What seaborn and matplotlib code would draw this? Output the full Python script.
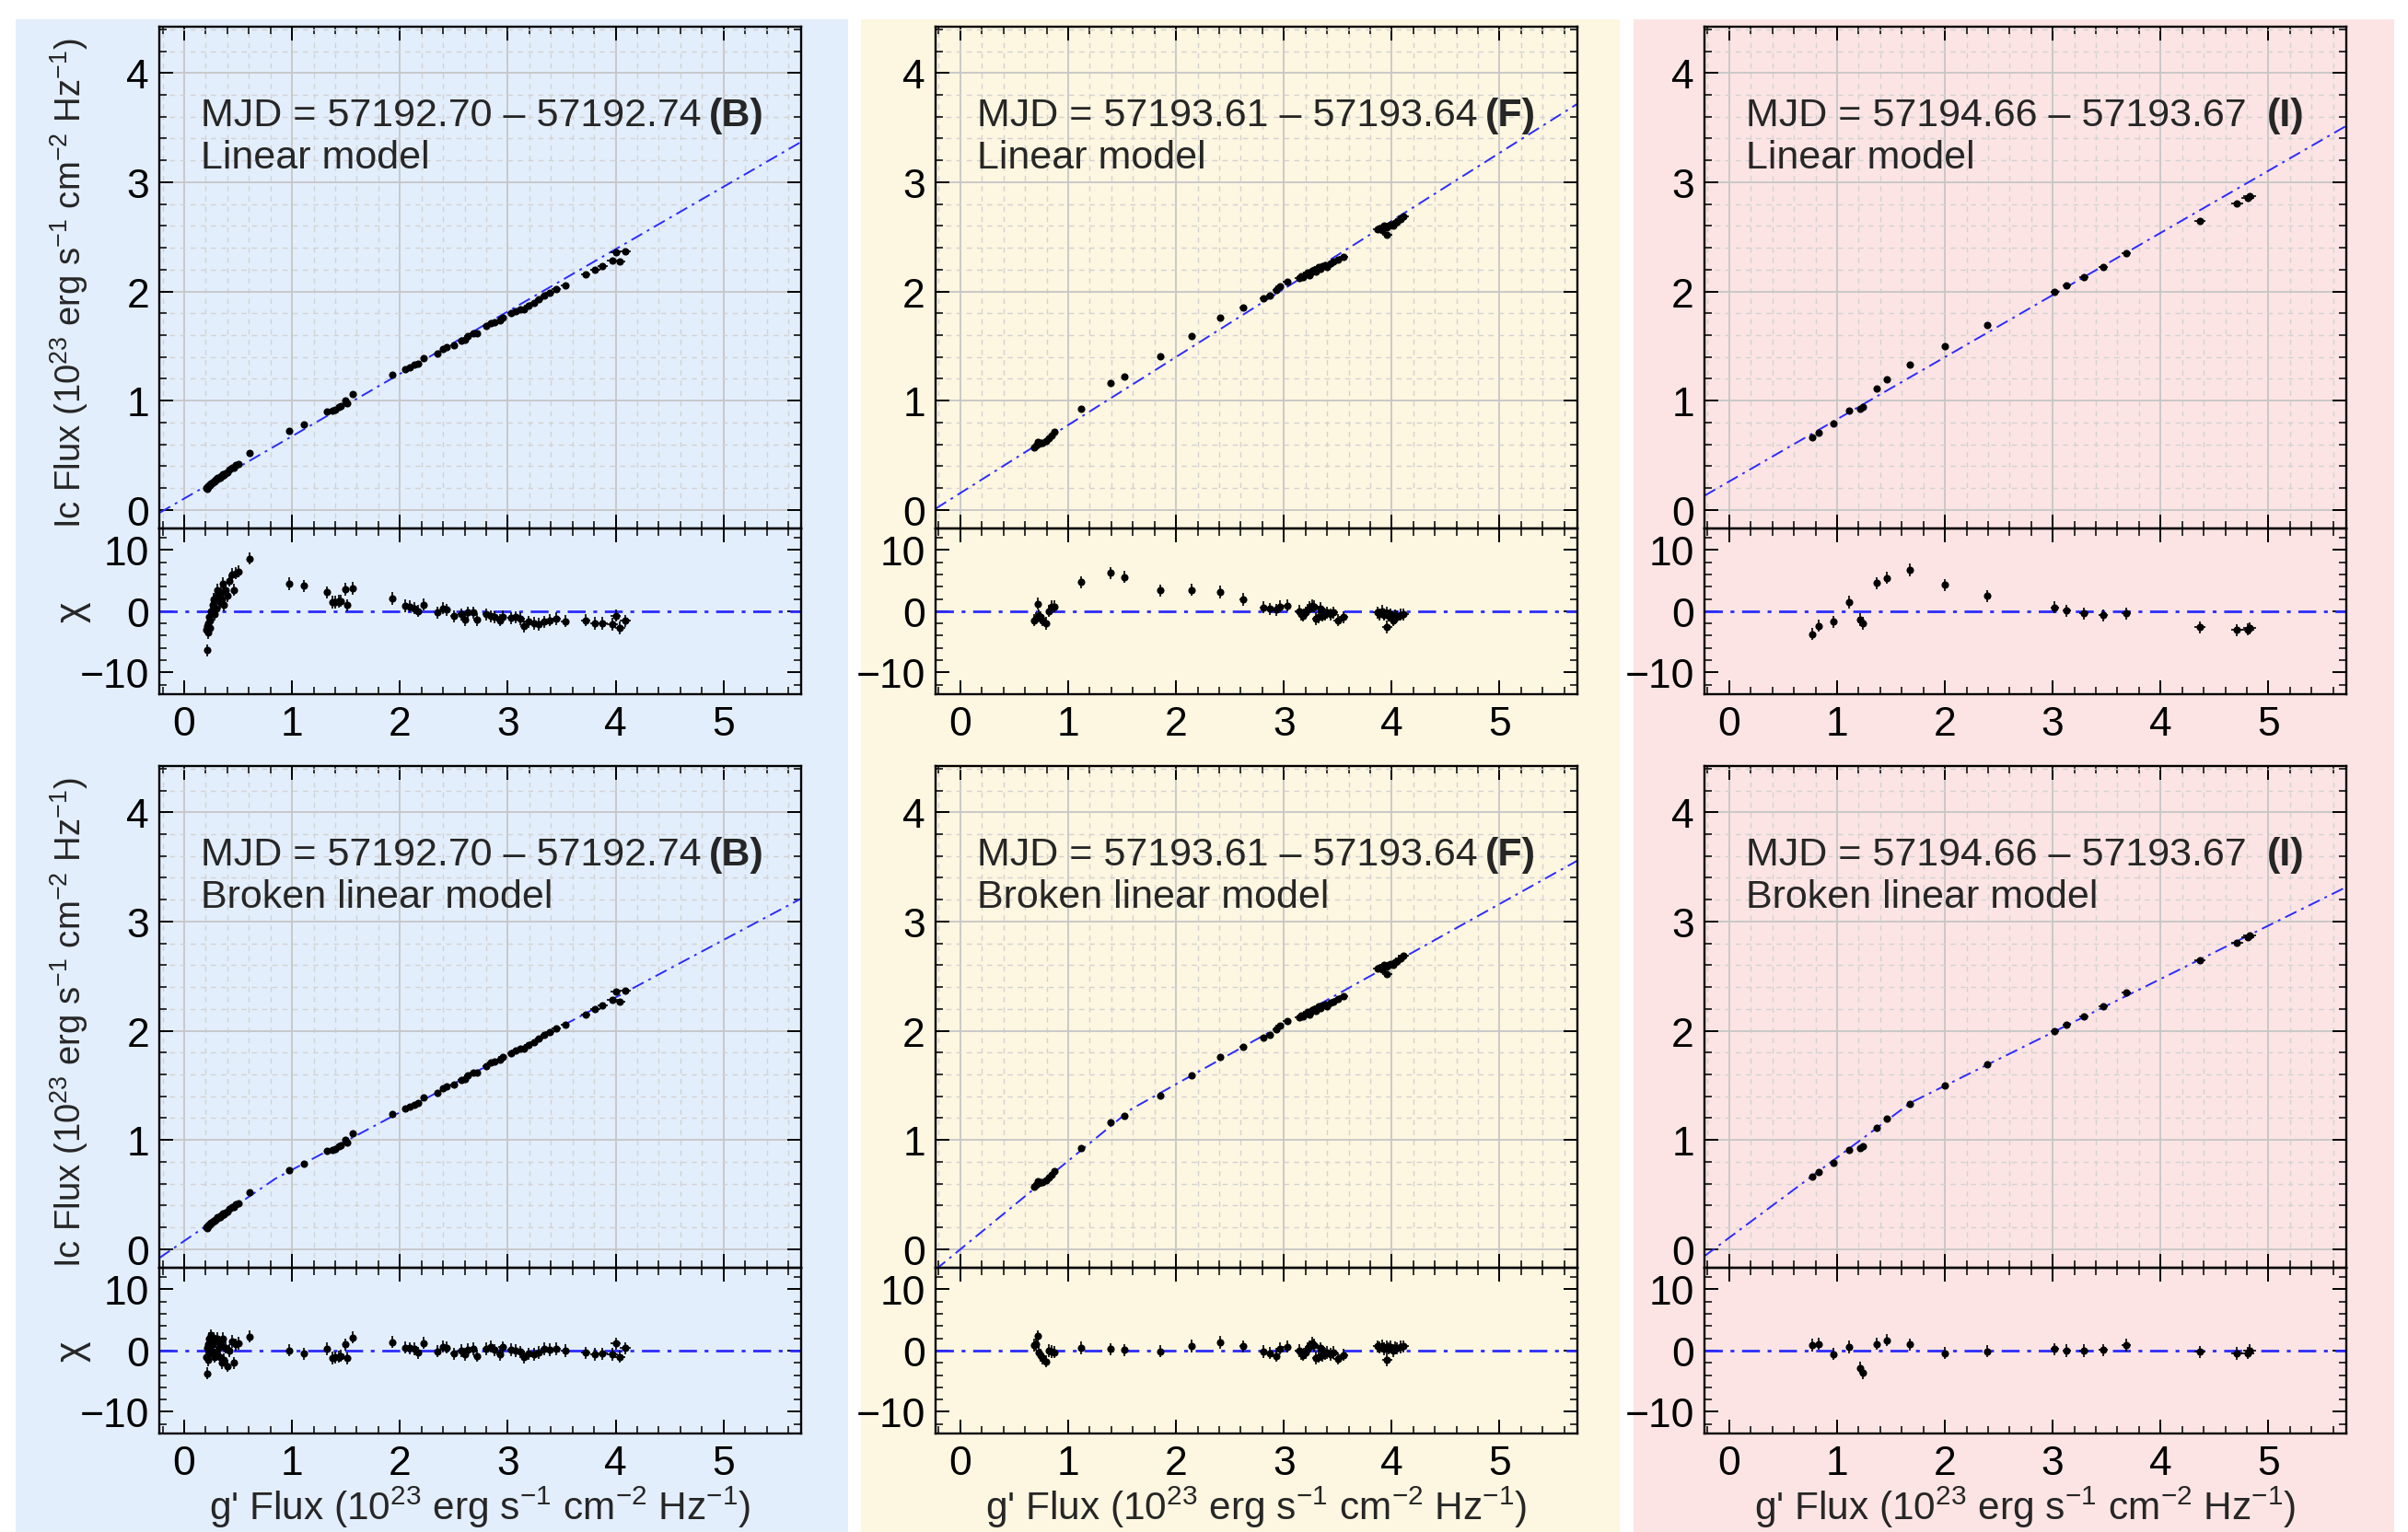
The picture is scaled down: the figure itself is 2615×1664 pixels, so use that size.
import numpy as np
import pandas as pd
import matplotlib
matplotlib.use("Agg")
import matplotlib.pyplot as plt
from matplotlib.patches import Rectangle
from matplotlib.ticker import MultipleLocator
import seaborn as sns

## ---------------- data ----------------
# column 1 : MJD 57192.70 - 57192.74 (B)
g_b = [0.205, 0.21, 0.215, 0.22, 0.225, 0.23, 0.235, 0.24, 0.25, 0.255, 0.26, 0.27, 0.28, 0.29, 0.30,
       0.31, 0.32, 0.33, 0.34, 0.35, 0.36, 0.37, 0.38, 0.40, 0.42, 0.44, 0.46, 0.48, 0.50, 0.61,
       0.974, 1.106, 1.32, 1.37, 1.40, 1.43, 1.45, 1.49, 1.51, 1.566, 1.93, 2.045, 2.09, 2.13, 2.17,
       2.22, 2.35, 2.40, 2.436, 2.50, 2.57, 2.60, 2.63, 2.68, 2.715, 2.80, 2.84, 2.88, 2.93, 2.95,
       3.03, 3.07, 3.12, 3.15, 3.19, 3.24, 3.29, 3.34, 3.39, 3.45, 3.53, 3.72, 3.81, 3.88, 3.97,
       4.00, 4.04, 4.09]
ic_b = [0.200, 0.196, 0.209, 0.210, 0.218, 0.224, 0.222, 0.232, 0.243, 0.242, 0.250, 0.260, 0.256, 0.272, 0.273,
        0.290, 0.292, 0.294, 0.306, 0.306, 0.325, 0.320, 0.335, 0.343, 0.365, 0.382, 0.383, 0.410, 0.420, 0.518,
        0.722, 0.780, 0.900, 0.905, 0.920, 0.940, 0.952, 1.000, 0.975, 1.060, 1.240, 1.285, 1.306, 1.326, 1.336,
        1.390, 1.435, 1.474, 1.490, 1.508, 1.553, 1.560, 1.588, 1.615, 1.615, 1.680, 1.706, 1.718, 1.732, 1.763,
        1.798, 1.816, 1.838, 1.840, 1.871, 1.895, 1.927, 1.963, 1.987, 2.021, 2.058, 2.152, 2.195, 2.234, 2.280,
        2.360, 2.270, 2.365]
chi_lin_b = [-3.0, -6.4, -2.5, -3.5, -2.0, -1.0, -2.8, -1.5, 0.0, -0.5, 1.0, 2.0, -0.5, 2.2, 0.5,
             3.5, 2.5, 1.5, 3.0, 2.0, 4.5, 1.0, 3.5, 2.5, 5.0, 6.0, 3.5, 6.2, 6.5, 8.6,
             4.5, 4.15, 3.1, 1.5, 1.5, 1.65, 1.7, 3.6, 1.0, 3.75, 2.1, 0.9, 0.75, 0.5, 0.0,
             1.1, -0.25, 0.5, 0.25, -0.85, -0.5, -1.4, -0.25, -0.25, -1.4, -0.5, -0.85, -1.0, -1.5, -0.9,
             -1.15, -1.0, -1.25, -2.5, -1.75, -2.0, -2.15, -1.75, -1.5, -1.25, -1.65, -1.5, -2.0, -2.0, -2.15,
             -0.75, -2.75, -1.6]
chi_brk_b = [-1.0, -3.7, 0.5, -1.5, 1.0, 2.0, -0.5, 1.5, 2.5, 0.0, 1.0, 2.0, -1.0, 1.5, -0.5,
             2.0, 0.5, -1.0, 1.0, -2.0, 2.0, -1.5, 0.5, -2.5, 0.0, 1.5, -2.0, 1.0, 1.2, 2.3,
             0.05, -0.5, 0.3, -1.2, -1.1, -1.0, -0.85, 1.0, -1.25, 2.15, 1.4, 0.5, 0.4, 0.3, -0.35,
             1.25, -0.1, 0.65, 0.5, -0.5, 0.0, -0.6, 0.2, 0.3, -0.85, 0.3, 0.65, 0.1, -0.6, 0.55,
             0.15, 0.0, -0.2, -1.1, -0.5, -0.6, -0.3, 0.3, 0.15, 0.3, 0.0, -0.35, -0.6, -0.5, -0.6,
             1.15, -1.0, 0.4]

# column 2 : MJD 57193.61 - 57193.64 (F)
g_f = [0.688, 0.700, 0.715, 0.727, 0.745, 0.765, 0.793, 0.82, 0.845, 0.874,
       1.118, 1.392, 1.52, 1.852, 2.142, 2.413, 2.622, 2.807, 2.869, 2.93, 2.96, 3.028,
       3.14, 3.16, 3.18, 3.20, 3.22, 3.24, 3.26, 3.28, 3.30, 3.32, 3.34, 3.36, 3.38, 3.40, 3.43, 3.46, 3.50, 3.55,
       3.87, 3.89, 3.91, 3.93, 3.95, 3.955, 3.97, 3.99, 4.01, 4.03, 4.05, 4.08, 4.11]
ic_f = [0.570, 0.585, 0.620, 0.605, 0.610, 0.615, 0.630, 0.655, 0.685, 0.715,
        0.929, 1.158, 1.223, 1.405, 1.589, 1.758, 1.856, 1.936, 1.966, 2.010, 2.043, 2.085,
        2.12, 2.14, 2.13, 2.16, 2.17, 2.15, 2.19, 2.20, 2.18, 2.22, 2.21, 2.23, 2.24, 2.22, 2.26, 2.27, 2.29, 2.32,
        2.57, 2.58, 2.56, 2.60, 2.59, 2.52, 2.60, 2.61, 2.60, 2.63, 2.64, 2.66, 2.69]
chi_lin_f = [-1.5, -1.2, 1.25, -0.75, -1.0, -1.5, -2.0, 0.0, 0.75, 0.75,
             4.75, 6.25, 5.6, 3.4, 3.5, 3.15, 1.95, 0.6, 0.4, 0.25, 0.75, 0.95,
             0.0, -0.5, -0.75, -0.25, 0.25, 0.6, 0.9, 0.75, -1.25, -1.0, 0.5, -0.75, -0.5, -0.25, -0.5, -0.25, -1.5, -1.0,
             -0.25, -0.5, 0.0, -0.6, -0.3, -2.6, -0.75, -0.5, -1.5, -0.75, -0.9, -0.6, -0.5]
chi_brk_f = [0.9, 1.0, 2.35, -0.25, -0.75, -1.25, -1.75, 0.0, -0.15, -0.25,
             0.45, 0.25, 0.1, -0.1, 0.75, 1.35, 0.7, -0.15, -0.4, -0.85, 0.35, 0.65,
             0.0, -0.5, -0.7, -0.3, 0.3, 0.7, 1.2, 0.9, -1.2, -1.0, 0.4, -0.8, -0.5, -0.3, -0.6, -0.3, -1.3, -0.7,
             0.7, 0.5, 0.8, 0.3, 0.6, -1.5, 0.4, 0.6, 0.0, 0.5, 0.4, 0.6, 0.7]

# column 3 : MJD 57194.66 - 57193.67 (I)
g_i = [0.769, 0.827, 0.962, 1.113, 1.213, 1.240, 1.364, 1.461, 1.674, 2.002,
       2.392, 3.018, 3.130, 3.288, 3.470, 3.682, 4.362, 4.710, 4.807, 4.825]
ic_i = [0.662, 0.706, 0.789, 0.911, 0.926, 0.941, 1.107, 1.193, 1.332, 1.496,
        1.691, 2.000, 2.053, 2.131, 2.223, 2.350, 2.644, 2.807, 2.858, 2.875]
chi_lin_i = [-3.75, -2.4, -1.75, 1.5, -1.4, -2.0, 4.6, 5.45, 6.75, 4.3,
             2.5, 0.6, 0.1, -0.35, -0.65, -0.4, -2.65, -3.1, -3.0, -2.8]
chi_brk_i = [0.9, 1.1, -0.55, 0.6, -2.8, -3.66, 1.1, 1.7, 1.0, -0.4,
             -0.1, 0.25, 0.0, 0.0, 0.1, 0.9, -0.2, -0.45, -0.4, 0.0]

# model lines (vertices in data units)
lin_x = [-0.23, 5.72]
lin_y_b = [-0.028, 3.369]
lin_y_f = [0.010, 3.717]
lin_y_i = [0.129, 3.515]
brk_x_b = [-0.23, 0.846, 5.72]
brk_y_b = [-0.080, 0.646, 3.210]
brk_x_f = [-0.23, 1.588, 5.72]
brk_y_f = [-0.188, 1.284, 3.557]
brk_x_i = [-0.23, 1.686, 5.72]
brk_y_i = [-0.064, 1.343, 3.315]

g_err_frac = 0.012
ic_err_frac = 0.006
chi_err = 1.0

mjd_text = ["MJD = 57192.70 \u2013 57192.74", "MJD = 57193.61 \u2013 57193.64", "MJD = 57194.66 \u2013 57193.67"]
mjd_tag = ["(B)", "(F)", "(I)"]
model_names = ["Linear model", "Broken linear model"]
bg_colors = ["#e3eefc", "#fdf6e0", "#fce4e4"]

## ---------------- style ----------------
sns.set_theme(style="ticks")
plt.rcParams["font.family"] = ["Liberation Sans", "DejaVu Sans"]
plt.rcParams["mathtext.fontset"] = "custom"
plt.rcParams["mathtext.rm"] = "Liberation Sans"
plt.rcParams["mathtext.it"] = "Liberation Sans:italic"
plt.rcParams["mathtext.bf"] = "Liberation Sans:bold"
plt.rcParams["axes.unicode_minus"] = True

FS_TICK = 32
FS_TXT = 31
FS_XLAB = 30.5
FS_YLAB = 27.5
LINE_C = "#2b2bff"
DASHDOT = (0, (7, 3, 1.5, 3))
XLIM = (-0.23, 5.72)

cols = [
    dict(g=g_b, ic=ic_b, chi=[chi_lin_b, chi_brk_b], mx=[lin_x, brk_x_b], my=[lin_y_b, brk_y_b]),
    dict(g=g_f, ic=ic_f, chi=[chi_lin_f, chi_brk_f], mx=[lin_x, brk_x_f], my=[lin_y_f, brk_y_f]),
    dict(g=g_i, ic=ic_i, chi=[chi_lin_i, chi_brk_i], mx=[lin_x, brk_x_i], my=[lin_y_i, brk_y_i]),
]

fig = plt.figure(figsize=(26.15, 16.65), dpi=100)
fig.patch.set_facecolor("white")

# coloured column backgrounds (behind all axes)
bg_pos = [(0.0065, 0.3457), (0.3576, 0.3151), (0.6784, 0.3159)]
for (x0, w), c in zip(bg_pos, bg_colors):
    fig.patches.append(Rectangle((x0, 0.0), w, 0.9868, transform=fig.transFigure,
                                 facecolor=c, edgecolor="none", zorder=-10))

lefts = [0.0662, 0.3885, 0.7078]
W = 0.2665
H_MAIN, H_RES = 0.327, 0.108
main_bottoms = [0.6547, 0.1724]
res_bottoms = [0.5467, 0.0644]


def style_axes(ax):
    ax.set_facecolor("none")
    for s in ax.spines.values():
        s.set_linewidth(1.7)
        s.set_color("black")
        s.set_visible(True)
    ax.tick_params(which="both", direction="in", top=True, right=True, colors="black",
                   labelsize=FS_TICK)
    ax.tick_params(which="major", length=11, width=1.4, pad=8)
    ax.tick_params(which="minor", length=5.5, width=1.1)
    ax.set_xlim(*XLIM)
    ax.xaxis.set_major_locator(MultipleLocator(1))
    ax.xaxis.set_minor_locator(MultipleLocator(0.2))


for r in range(2):
    for c, d in enumerate(cols):
        g = np.array(d["g"])
        ic = np.array(d["ic"])
        chi = np.array(d["chi"][r])
        df = pd.DataFrame({"g": g, "ic": ic, "chi": chi})

        # ---- main panel ----
        ax = fig.add_axes([lefts[c], main_bottoms[r], W, H_MAIN])
        style_axes(ax)
        ax.set_ylim(-0.17, 4.42)
        ax.yaxis.set_major_locator(MultipleLocator(1))
        ax.yaxis.set_minor_locator(MultipleLocator(0.2))
        ax.grid(which="major", color="#c6c6c6", lw=1.3)
        ax.grid(which="minor", color="#d2d2d2", lw=1.0, ls=(0, (4, 4)))
        ax.set_axisbelow(True)
        ax.tick_params(labelbottom=False)

        sns.lineplot(x=d["mx"][r], y=d["my"][r], ax=ax, color=LINE_C, lw=1.4,
                     linestyle=DASHDOT, sort=False, estimator=None, zorder=2)
        ax.errorbar(df["g"], df["ic"], xerr=g_err_frac * df["g"], yerr=ic_err_frac * df["ic"],
                    fmt="none", ecolor="black", elinewidth=1.2, capsize=0, zorder=3)
        sns.scatterplot(data=df, x="g", y="ic", ax=ax, color="black", s=34,
                        linewidth=0, zorder=4, legend=False)
        ax.set_xlabel("")
        ax.set_ylabel("")

        t = ax.text(0.065, 0.805, mjd_text[c], transform=ax.transAxes, fontsize=FS_TXT,
                    ha="left", va="baseline")
        gap = 16 if c == 2 else 6
        ax.annotate(mjd_tag[c], xy=(1, 0), xycoords=t, xytext=(gap, 0),
                    textcoords="offset points", fontsize=FS_TXT, fontweight="bold",
                    ha="left", va="bottom")
        ax.text(0.065, 0.720, model_names[r], transform=ax.transAxes, fontsize=FS_TXT,
                ha="left", va="baseline")

        if c == 0:
            ax.text(-0.14, 0.49, r"Ic Flux (10$^{23}$ erg s$^{-1}$ cm$^{-2}$ Hz$^{-1}$)",
                    transform=ax.transAxes, rotation=90, ha="center", va="center",
                    fontsize=FS_YLAB)

        # ---- residual panel ----
        axr = fig.add_axes([lefts[c], res_bottoms[r], W, H_RES])
        style_axes(axr)
        axr.set_ylim(-13.5, 13.5)
        axr.yaxis.set_major_locator(MultipleLocator(10))
        axr.yaxis.set_minor_locator(MultipleLocator(2))
        axr.axhline(0, color=LINE_C, lw=2.0, linestyle=DASHDOT, zorder=2)
        axr.errorbar(df["g"], df["chi"], xerr=g_err_frac * df["g"], yerr=chi_err,
                     fmt="none", ecolor="black", elinewidth=1.2, capsize=0, zorder=3)
        sns.scatterplot(data=df, x="g", y="chi", ax=axr, color="black", s=34,
                        linewidth=0, zorder=4, legend=False)
        axr.set_xlabel("")
        axr.set_ylabel("")
        axr.tick_params(axis="x", pad=9)

        if c == 0:
            axr.text(-0.135, 0.5, "\u03c7", transform=axr.transAxes, rotation=90,
                     ha="center", va="center", fontsize=FS_TXT)
        if r == 1:
            axr.text(0.5, -0.445, r"g' Flux (10$^{23}$ erg s$^{-1}$ cm$^{-2}$ Hz$^{-1}$)",
                     transform=axr.transAxes, ha="center", va="center", fontsize=FS_XLAB)

fig.savefig("out.png", dpi=100, facecolor="white")
